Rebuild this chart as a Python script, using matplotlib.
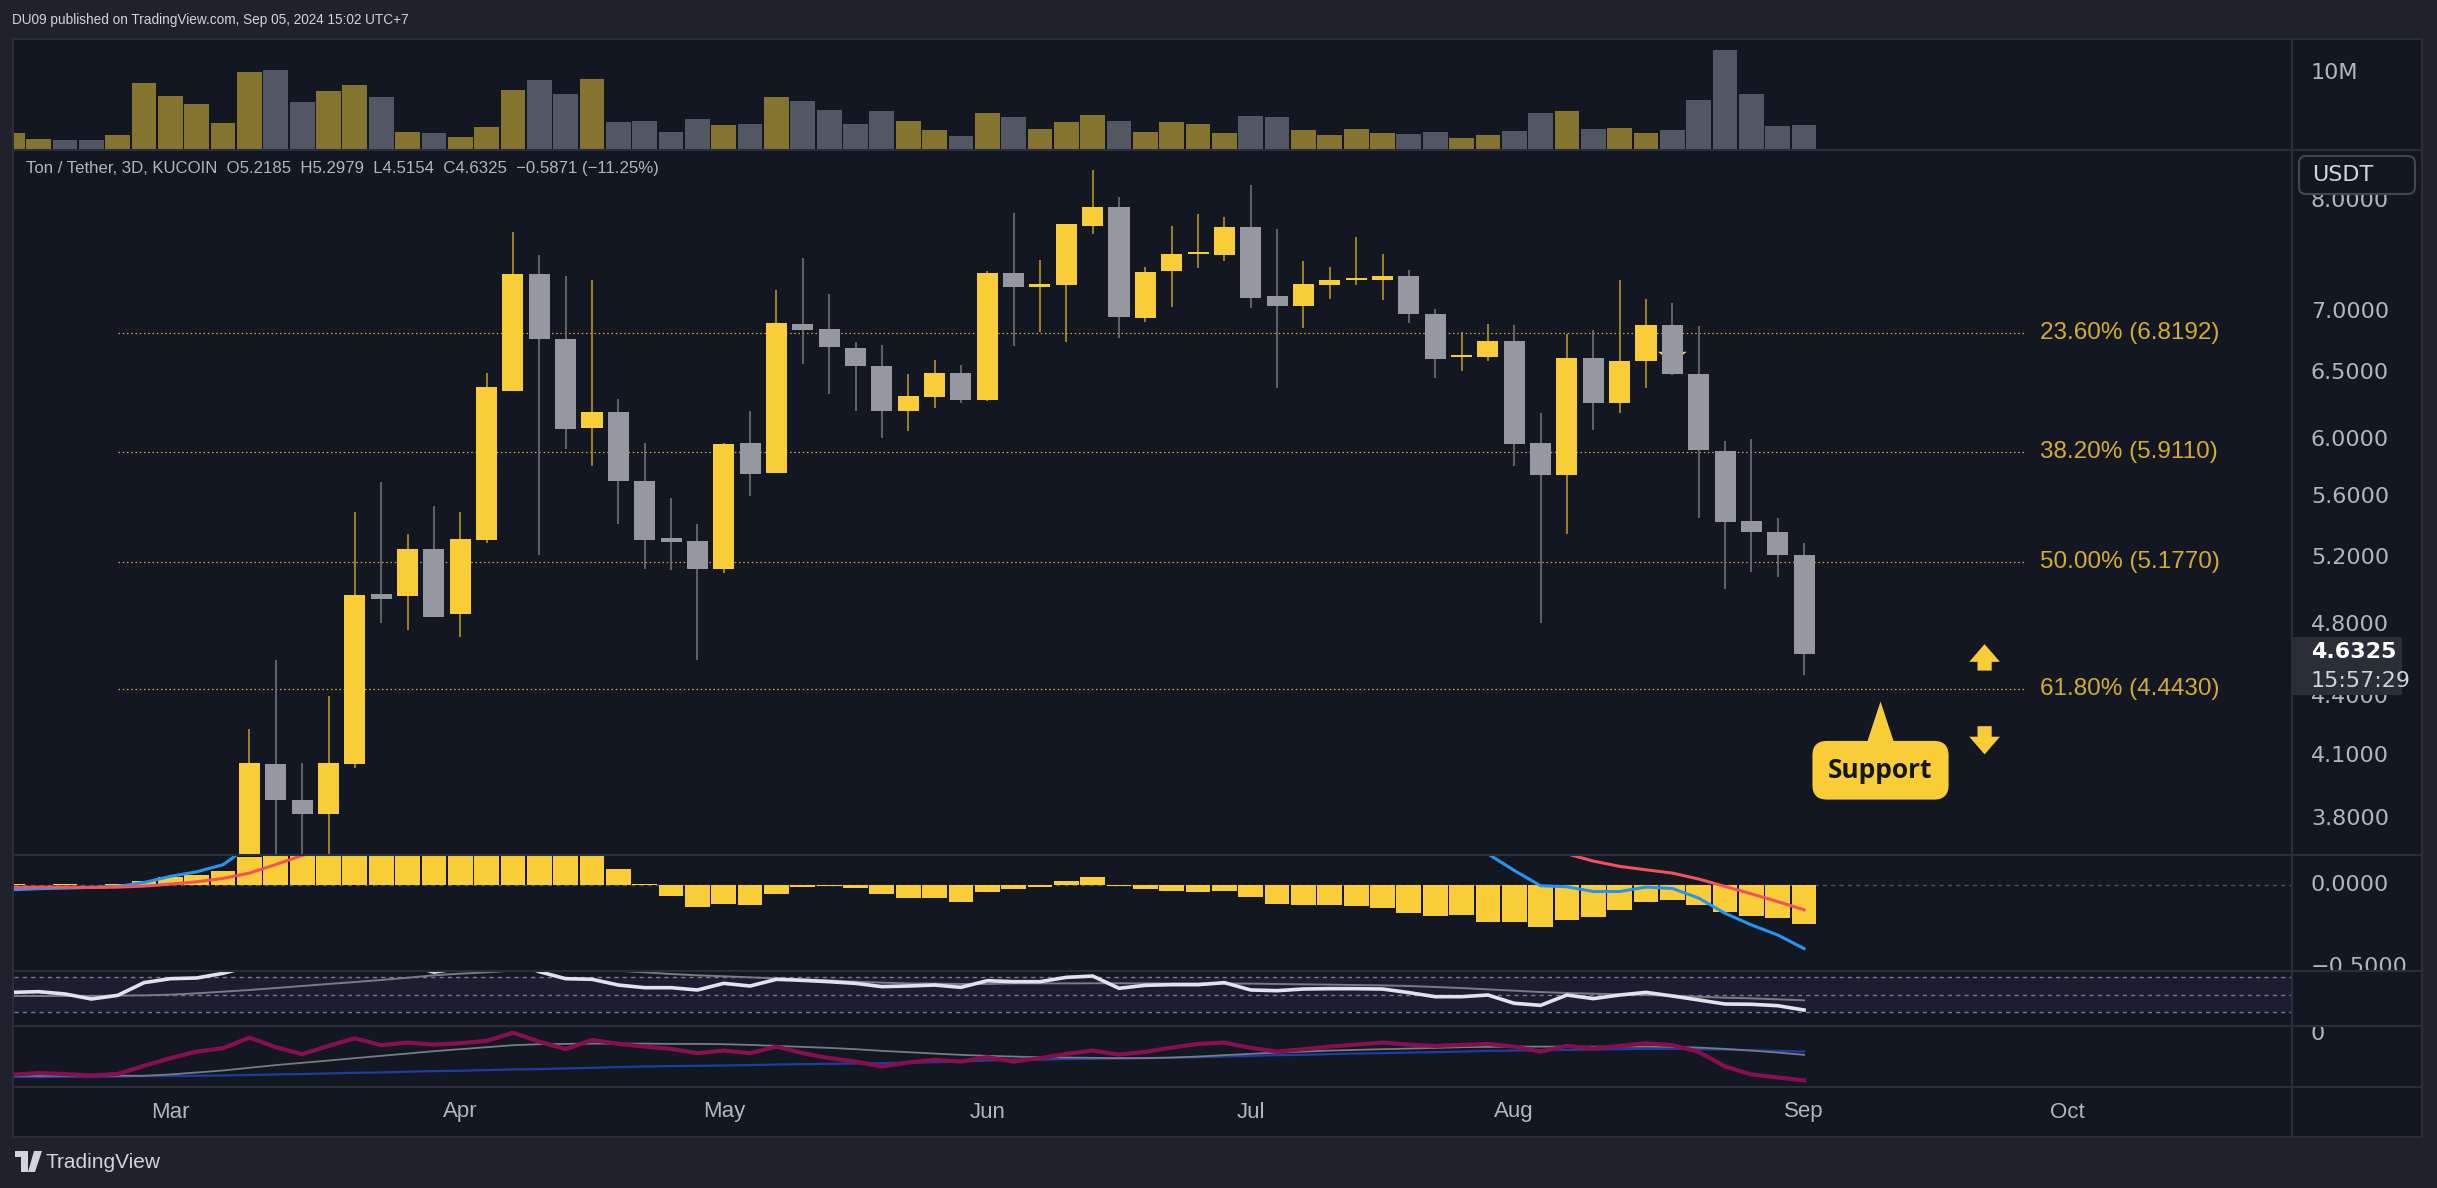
import matplotlib
matplotlib.use("Agg")
import matplotlib.pyplot as plt
import matplotlib.transforms as mtransforms
from matplotlib.patches import Rectangle, Polygon, FancyBboxPatch
from matplotlib.lines import Line2D
from matplotlib.ticker import NullLocator
import numpy as np

# ---------------- data: TON / USDT, 3D bars (bar 1 .. 69, bar 69 = Sep 03 2024) ----------------
bars = np.arange(1, 70)

vol_m = [2.1, 1.3, 1.2, 1.2, 1.8, 8.7, 7.0, 5.9, 3.4, 10.1,
         10.4, 6.2, 7.6, 8.4, 6.8, 2.2, 2.1, 1.6, 2.9, 7.8,
         9.1, 7.2, 9.2, 3.6, 3.7, 2.2, 3.9, 3.2, 3.3, 6.8,
         6.3, 5.1, 3.3, 5.0, 3.7, 2.5, 1.7, 4.7, 4.2, 2.6,
         3.6, 4.5, 3.7, 2.2, 3.6, 3.3, 2.1, 4.3, 4.2, 2.5,
         1.8, 2.6, 2.1, 2.0, 2.2, 1.4, 1.8, 2.4, 4.7, 5.0,
         2.6, 2.8, 2.1, 2.5, 6.4, 13.0, 7.2, 3.0, 3.2]
vol_dir = ("UUDDUUUUUU" "DDUUDUDUUU" "DDUDDDDUDU" "DDDDUUDUDU"
           "UUDUUUUDDU" "UUUDDUUDDU" "DUUDDDDDD")

# candles visible in the price pane start at bar 10 (earlier ones are below the pane)
candle_bars = np.arange(10, 70)
c_open = [3.05, 4.058, 3.885, 3.822, 4.058, 4.981, 4.967, 5.259, 4.861, 5.317,
          6.362, 7.322, 6.775, 6.084, 6.204, 5.706, 5.329, 5.309,
          5.132, 5.973, 5.762, 6.898, 6.857, 6.701, 6.558, 6.207, 6.313, 6.505,
          6.292, 7.332, 7.213, 7.225, 7.763, 7.946, 6.951,
          7.348, 7.500, 7.497, 7.750, 7.135, 7.047, 7.232, 7.270, 7.275, 7.306,
          6.982, 6.626, 6.626, 6.757, 5.979, 5.750, 6.623, 6.269,
          6.594, 6.890, 6.494, 5.921, 5.437, 5.371, 5.2185]
c_high = [4.231, 4.598, 4.064, 4.407, 5.502, 5.700, 5.355, 5.538, 5.502, 6.505,
          7.704, 7.493, 7.306, 7.271, 6.303, 5.979, 5.595, 5.419,
          5.979, 6.207, 7.186, 7.465, 7.151, 6.749, 6.723, 6.494, 6.604, 6.565,
          7.348, 7.881, 7.449, 7.780, 8.299, 8.041, 7.388,
          7.759, 7.872, 7.842, 8.151, 7.733, 7.440, 7.388, 7.658, 7.501, 7.360,
          7.024, 6.830, 6.898, 6.890, 6.197, 6.818, 6.845, 7.271,
          7.108, 7.074, 6.879, 5.992, 6.002, 5.457, 5.2979]
c_low = [2.98, 3.40, 3.45, 3.50, 4.040, 4.808, 4.768, 4.843, 4.732, 5.294,
         6.362, 5.222, 5.931, 5.813, 5.422, 5.135, 5.129, 4.603,
         5.112, 5.608, 5.762, 6.576, 6.337, 6.207, 6.012, 6.061, 6.231, 6.269,
         6.282, 6.719, 6.834, 6.745, 7.687, 6.778, 6.917,
         7.043, 7.380, 7.444, 7.028, 6.382, 6.861, 7.112, 7.232, 7.097, 6.909,
         6.466, 6.515, 6.594, 5.813, 4.813, 5.352, 6.068, 6.194,
         6.382, 6.484, 5.460, 5.013, 5.118, 5.082, 4.5154]
c_close = [4.062, 3.885, 3.822, 4.062, 4.975, 4.954, 5.259, 4.847, 5.323, 6.396,
           7.322, 6.775, 6.078, 6.204, 5.709, 5.317, 5.306, 5.135,
           5.966, 5.756, 6.906, 6.849, 6.705, 6.555, 6.207, 6.320, 6.505, 6.292,
           7.332, 7.213, 7.237, 7.780, 7.946, 6.959, 7.344,
           7.501, 7.502, 7.750, 7.120, 7.047, 7.237, 7.271, 7.275, 7.306, 6.979,
           6.616, 6.630, 6.757, 5.969, 5.750, 6.623, 6.269, 6.598,
           6.890, 6.491, 5.924, 5.434, 5.371, 5.2185, 4.6325]

fib_pct = [23.6, 38.2, 50.0, 61.8]
fib_price = [6.8192, 5.9110, 5.1770, 4.4430]

price_ticks = [3.8, 4.1, 4.4, 4.8, 5.2, 5.6, 6.0, 6.5, 7.0, 8.0]

macd_hist = [0.006, 0.002, 0.008, 0.002, 0.004, 0.026, 0.050, 0.063, 0.083, 0.170,
             0.24, 0.26, 0.28, 0.33, 0.34, 0.33, 0.28, 0.27, 0.32, 0.42,
             0.38, 0.27, 0.22, 0.100, 0.004, -0.069, -0.130, -0.112, -0.118, -0.051,
             -0.014, -0.008, -0.020, -0.057, -0.081, -0.081, -0.100, -0.043, -0.026, -0.014,
             0.026, 0.051, -0.008, -0.026, -0.035, -0.041, -0.033, -0.075, -0.112, -0.120,
             -0.120, -0.126, -0.138, -0.167, -0.187, -0.181, -0.222, -0.222, -0.254, -0.211,
             -0.193, -0.150, -0.102, -0.089, -0.120, -0.163, -0.185, -0.199, -0.234]
macd_line = [-0.028, -0.022, -0.018, -0.014, -0.008, 0.016, 0.053, 0.081, 0.124, 0.24,
             0.30, 0.36, 0.42, 0.50, 0.56, 0.61, 0.62, 0.64, 0.71, 0.84,
             0.86, 0.82, 0.80, 0.76, 0.70, 0.64, 0.58, 0.56, 0.53, 0.55,
             0.56, 0.56, 0.55, 0.51, 0.49, 0.48, 0.46, 0.50, 0.51, 0.52,
             0.56, 0.60, 0.57, 0.55, 0.54, 0.53, 0.54, 0.50, 0.46, 0.44,
             0.43, 0.42, 0.40, 0.36, 0.31, 0.28, 0.19, 0.089, -0.004, -0.010,
             -0.039, -0.039, -0.012, -0.020, -0.079, -0.171, -0.242, -0.303, -0.386]
macd_signal = [-0.014, -0.012, -0.012, -0.014, -0.012, -0.006, 0.006, 0.020, 0.041, 0.073,
               0.125, 0.18, 0.23, 0.27, 0.33, 0.38, 0.42, 0.46, 0.50, 0.57,
               0.62, 0.66, 0.69, 0.70, 0.70, 0.69, 0.67, 0.65, 0.63, 0.61,
               0.60, 0.59, 0.58, 0.57, 0.56, 0.55, 0.54, 0.54, 0.53, 0.53,
               0.53, 0.54, 0.54, 0.54, 0.54, 0.54, 0.54, 0.54, 0.53, 0.52,
               0.50, 0.49, 0.48, 0.46, 0.43, 0.40, 0.36, 0.31, 0.25, 0.19,
               0.146, 0.114, 0.093, 0.073, 0.037, -0.008, -0.053, -0.100, -0.150]

rsi = [52.6, 53.4, 50.8, 45.1, 49.2, 63.6, 68.1, 68.9, 74.2, 82.0,
       79.0, 78.0, 80.0, 86.0, 85.0, 84.0, 75.5, 80.0, 85.0, 88.0,
       76.0, 68.1, 67.4, 60.9, 57.9, 57.9, 55.3, 62.8, 59.8, 67.4,
       66.2, 64.7, 62.8, 59.1, 59.8, 60.9, 58.3, 65.8, 64.7, 64.7,
       69.6, 71.1, 57.2, 60.6, 61.3, 61.3, 63.6, 55.3, 54.5, 56.4,
       56.8, 56.8, 56.4, 52.3, 47.7, 47.7, 49.6, 40.2, 37.9, 49.6,
       45.5, 49.6, 52.6, 48.5, 44.0, 39.4, 39.1, 37.5, 32.6]
rsi_ma = [48.5, 48.5, 48.5, 48.5, 48.9, 49.2, 50.0, 51.5, 53.4, 55.3,
          57.5, 59.8, 62.1, 64.3, 66.6, 69.2, 71.9, 73.8, 75.3, 77.3,
          77.8, 78.0, 77.6, 77.0, 75.3, 73.4, 71.9, 70.8, 69.6, 68.5,
          67.4, 66.2, 64.7, 63.6, 62.8, 62.5, 62.1, 62.1, 62.8, 62.8,
          62.8, 62.9, 62.9, 62.8, 62.7, 62.7, 62.6, 62.5, 62.1, 61.7,
          61.3, 60.9, 60.5, 59.8, 58.7, 57.5, 56.0, 54.5, 53.0, 51.9,
          51.1, 50.4, 49.6, 48.9, 47.7, 46.6, 45.8, 44.7, 43.6]

osc_main = [-4.10, -3.93, -4.03, -4.17, -4.03, -3.20, -2.43, -1.77, -1.43, -0.37,
            -1.33, -2.03, -1.20, -0.43, -1.13, -0.87, -1.07, -0.93, -0.70, 0.13,
            -0.77, -1.53, -0.60, -1.00, -1.27, -1.50, -1.93, -1.67, -1.93, -1.27,
            -1.93, -2.43, -2.77, -3.27, -2.87, -2.60, -2.77, -2.33, -2.77, -2.43,
            -2.00, -1.67, -2.07, -1.80, -1.37, -1.00, -0.87, -1.40, -1.77, -1.53,
            -1.27, -1.07, -0.87, -1.07, -1.20, -1.10, -1.00, -1.27, -1.77, -1.20,
            -1.47, -1.20, -0.93, -1.13, -1.80, -3.27, -4.07, -4.37, -4.67]
osc_gray = [-4.20, -4.20, -4.20, -4.20, -4.20, -4.20, -4.07, -3.87, -3.67, -3.40,
            -3.13, -2.90, -2.67, -2.43, -2.20, -1.97, -1.73, -1.53, -1.33, -1.13,
            -1.03, -1.00, -0.97, -0.97, -0.97, -1.00, -1.00, -1.03, -1.10, -1.20,
            -1.30, -1.40, -1.53, -1.70, -1.83, -1.97, -2.10, -2.20, -2.27, -2.33,
            -2.37, -2.40, -2.43, -2.43, -2.37, -2.27, -2.13, -2.00, -1.87, -1.77,
            -1.67, -1.60, -1.53, -1.47, -1.40, -1.33, -1.30, -1.27, -1.27, -1.27,
            -1.27, -1.27, -1.27, -1.30, -1.37, -1.50, -1.67, -1.87, -2.10]
osc_blue = [-4.33, -4.33, -4.30, -4.30, -4.27, -4.23, -4.23, -4.20, -4.17, -4.13,
            -4.07, -4.03, -3.97, -3.90, -3.87, -3.80, -3.73, -3.70, -3.63, -3.57,
            -3.53, -3.47, -3.40, -3.33, -3.27, -3.23, -3.20, -3.17, -3.13, -3.07,
            -3.03, -3.00, -2.97, -2.93, -2.87, -2.83, -2.77, -2.67, -2.60, -2.57,
            -2.53, -2.50, -2.47, -2.43, -2.40, -2.33, -2.27, -2.20, -2.13, -2.10,
            -2.03, -1.97, -1.93, -1.87, -1.83, -1.77, -1.70, -1.67, -1.63, -1.60,
            -1.57, -1.53, -1.50, -1.50, -1.53, -1.57, -1.63, -1.70, -1.77]

months = ["Mar", "Apr", "May", "Jun", "Jul", "Aug", "Sep", "Oct"]
month_bar = [7, 18, 28, 38, 48, 58, 69, 79]

# ---------------- style ----------------
W, H = 2437, 1188
OUTER = "#1f222d"
BG = "#131722"
SEP = "#2a2e39"
YEL = "#f9cd37"
GRY = "#9598a1"
WICK_UP = "#b39328"
WICK_DN = "#6d707a"
VOL_UP = "#857330"
VOL_DN = "#535663"
FIB = "#d4ac32"
TXT = "#b2b5be"
NARROW = ["Liberation Sans Narrow", "Liberation Sans", "DejaVu Sans"]
plt.rcParams["font.family"] = ["DejaVu Sans"]

XL = (1 + (14 - 12.3) / 26.35, 1 + (2292 - 12.3) / 26.35)

fig = plt.figure(figsize=(W / 100, H / 100), dpi=100)
fig.patch.set_facecolor(OUTER)
PIX = mtransforms.Affine2D().scale(1, -1).translate(0, H)   # pixel coords, origin top-left


def rect(x0, y0, x1, y1):
    return [x0 / W, 1 - y1 / H, (x1 - x0) / W, (y1 - y0) / H]


def clean(ax):
    ax.set_facecolor("none")
    for s in ax.spines.values():
        s.set_visible(False)
    for axis in (ax.xaxis, ax.yaxis):
        axis.set_major_locator(NullLocator())
        axis.set_minor_locator(NullLocator())


def pane(y0, y1):
    ax = fig.add_axes(rect(14, y0, 2292, y1))
    clean(ax)
    ax.set_xlim(*XL)
    return ax


def scale_pane(ax, y0, y1):
    sc = fig.add_axes(rect(2292, y0, 2422, y1), sharey=ax)
    clean(sc)
    sc.set_xlim(0, 1)
    return sc


def scale_label(sc, v, s, **kw):
    sc.text(0.146, v, s, transform=sc.get_yaxis_transform(), ha="left", va="center",
            color=TXT, fontsize=16, clip_on=True, **kw)


# chart frame
fig.patches.append(Rectangle((13, 39), 2409, 1098, transform=PIX, fc=BG, ec=SEP, lw=1.5, zorder=-1))

# ---------------- volume ----------------
ax_v = pane(40, 149)
ax_v.set_ylim(0, 14.3)
ax_v.bar(bars, vol_m, width=0.94, color=[VOL_UP if d == "U" else VOL_DN for d in vol_dir], linewidth=0)
sc_v = scale_pane(ax_v, 40, 149)
scale_label(sc_v, 10, "10M")

# ---------------- price ----------------
ax_p = fig.add_axes(rect(14, 150, 2292, 855))
ax_p.set_yscale("log")
clean(ax_p)
ax_p.set_xlim(*XL)
ax_p.set_ylim(3.637, 8.506)
sc_p = fig.add_axes(rect(2292, 150, 2422, 855))
sc_p.set_yscale("log")
clean(sc_p)
sc_p.set_xlim(0, 1)
sc_p.set_ylim(3.637, 8.506)
for t in price_ticks:
    scale_label(sc_p, t, f"{t:.4f}")

o = np.array(c_open)
c = np.array(c_close)
hi = np.array(c_high)
lo = np.array(c_low)
up = c >= o
body_lo = np.minimum(o, c)
body_hi = np.maximum(np.maximum(o, c), body_lo * 1.0025)
ax_p.vlines(candle_bars[up], lo[up], hi[up], color=WICK_UP, lw=1.2, zorder=2)
ax_p.vlines(candle_bars[~up], lo[~up], hi[~up], color=WICK_DN, lw=1.2, zorder=2)
ax_p.bar(candle_bars, body_hi - body_lo, bottom=body_lo, width=0.8,
         color=np.where(up, YEL, GRY), linewidth=0, zorder=3)

# small hidden marker behind the bar of Aug 21
ax_p.add_patch(Polygon([(63.45, 6.67), (64.55, 6.67), (64.0, 6.58)], closed=True, fc=YEL, ec="none", zorder=1))

# fibonacci retracement levels
ax_p.hlines(fib_price, 5, 77.4, colors=FIB, lw=0.9, linestyles=(0, (1.2, 2.2)), zorder=1)
for pct, lvl in zip(fib_pct, fib_price):
    ax_p.text(77.95, lvl, f"{pct:.2f}% ({lvl:.4f})", color=FIB, fontsize=17.5,
              family=NARROW, ha="left", va="center")

# support note and arrows
ax_p.text(71.9, 4.028, "Support", ha="center", va="center", fontsize=19, fontweight="bold",
          family=["Open Sans", "DejaVu Sans"], color="#131722", zorder=6,
          bbox=dict(boxstyle="round,pad=0.6,rounding_size=0.55", fc=YEL, ec="none"))
ax_p.add_patch(Polygon([(71.35, 4.15), (72.45, 4.15), (71.9, 4.376)], closed=True, fc=YEL, ec="none", zorder=5))
arrow = dict(arrowstyle="simple,head_length=0.75,head_width=1.3,tail_width=0.6",
             fc=YEL, ec="none", mutation_scale=17)
ax_p.annotate("", xy=(75.85, 4.705), xytext=(75.85, 4.527), arrowprops=arrow)
ax_p.annotate("", xy=(75.85, 4.092), xytext=(75.85, 4.262), arrowprops=arrow)

# ---------------- MACD ----------------
ax_m = pane(855, 971)
ax_m.set_ylim(-0.522, 0.183)
ax_m.axhline(0, color="#50535e", lw=1, ls=(0, (3, 3)), zorder=1)
ax_m.bar(bars, macd_hist, width=0.94, color=YEL, linewidth=0, zorder=2)
ax_m.plot(bars, macd_line, color="#2196f3", lw=2.2, zorder=3)
ax_m.plot(bars, macd_signal, color="#f4525a", lw=2.2, zorder=3)
sc_m = scale_pane(ax_m, 855, 971)
scale_label(sc_m, 0, "0.0000")
scale_label(sc_m, -0.5, "\u22120.5000")

# ---------------- RSI ----------------
ax_r = pane(971, 1026)
ax_r.set_ylim(14.5, 76.8)
ax_r.axhspan(30, 70, color="#7e57c2", alpha=0.1, lw=0, zorder=0)
for lvl in (70, 50, 30):
    ax_r.axhline(lvl, color="#787b86", lw=1, ls=(0, (3, 3)), zorder=1)
ax_r.plot(bars, rsi_ma, color="#787b86", lw=1.4, zorder=2)
ax_r.plot(bars, rsi, color="#e0e3eb", lw=2.6, zorder=3)
scale_pane(ax_r, 971, 1026)

# ---------------- lower oscillator ----------------
ax_o = pane(1026, 1087)
ax_o.set_ylim(-5.33, 0.8)
ax_o.plot(bars, osc_blue, color="#1a3fa0", lw=1.6, zorder=2)
ax_o.plot(bars, osc_gray, color="#787b86", lw=1.3, zorder=2)
ax_o.plot(bars, osc_main, color="#880e4f", lw=3.0, zorder=3)
sc_o = scale_pane(ax_o, 1026, 1087)
scale_label(sc_o, 0, "0")

# ---------------- time axis ----------------
ax_t = pane(1087, 1137)
ax_t.set_ylim(0, 1)
for m, b in zip(months, month_bar):
    ax_t.text(b, 0.5, m, ha="center", va="center", color=TXT, fontsize=16, family=NARROW)

# separators
for y in (149.5, 855, 971, 1026, 1087):
    fig.lines.append(Line2D([13, 2422], [y, y], transform=PIX, color=SEP, lw=1.5, zorder=5))
fig.lines.append(Line2D([2292, 2292], [39, 1137], transform=PIX, color=SEP, lw=1.5, zorder=5))

# price scale boxes
fig.patches.append(FancyBboxPatch((2299, 156), 116, 38, boxstyle="round,pad=0,rounding_size=7",
                                  transform=PIX, fc=BG, ec="#434651", lw=1.5, zorder=6))
fig.text(2312 / W, 1 - 175 / H, "USDT", color="#d1d4dc", fontsize=16, ha="left", va="center", zorder=7)
fig.patches.append(Rectangle((2293, 637), 109, 58, transform=PIX, fc="#2a2e39", ec="none", zorder=6))
fig.text(2311 / W, 1 - 652 / H, "4.6325", color="white", fontsize=16, fontweight="bold",
         ha="left", va="center", zorder=7)
fig.text(2311 / W, 1 - 681 / H, "15:57:29", color="#d1d4dc", fontsize=16, ha="left", va="center", zorder=7)

# header, legend, footer
fig.text(12 / W, 1 - 20 / H, "DU09 published on TradingView.com, Sep 05, 2024 15:02 UTC+7",
         color="#d1d4dc", fontsize=9.8, family=NARROW, ha="left", va="center")
fig.text(26 / W, 1 - 168 / H,
         "Ton / Tether, 3D, KUCOIN  O5.2185  H5.2979  L4.5154  C4.6325  \u22120.5871 (\u221211.25%)",
         color=TXT, fontsize=12.1, family=NARROW, ha="left", va="center")

logo = "#d1d4dc"
fig.patches.append(Polygon([(15, 1151), (28, 1151), (28, 1172), (21, 1172), (21, 1157), (15, 1157)],
                           closed=True, transform=PIX, fc=logo, ec="none"))
fig.patches.append(Polygon([(34, 1151), (42, 1151), (35, 1172), (28, 1172)],
                           closed=True, transform=PIX, fc=logo, ec="none"))
fig.text(46 / W, 1 - 1162 / H, "TradingView", color=logo, fontsize=15, family=NARROW,
         ha="left", va="center")

fig.savefig("out.png", dpi=100, facecolor=OUTER)
